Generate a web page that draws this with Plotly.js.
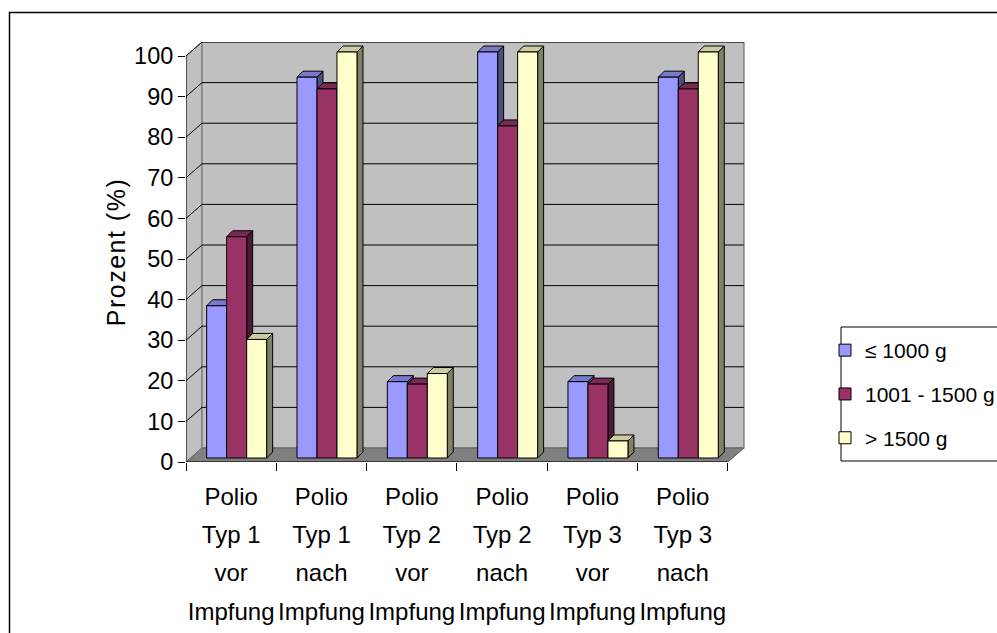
<!DOCTYPE html>
<html>
<head>
<meta charset="utf-8">
<script src="https://cdn.plot.ly/plotly-3.0.1.min.js"></script>
<style>
html,body{margin:0;padding:0;background:#ffffff;}
#chart{width:997px;height:633px;}
</style>
</head>
<body>
<div id="chart"></div>
<script>
// ---- data ----
const categories = [
  'Polio<br>Typ 1<br>vor<br>Impfung',
  'Polio<br>Typ 1<br>nach<br>Impfung',
  'Polio<br>Typ 2<br>vor<br>Impfung',
  'Polio<br>Typ 2<br>nach<br>Impfung',
  'Polio<br>Typ 3<br>vor<br>Impfung',
  'Polio<br>Typ 3<br>nach<br>Impfung'
];
const seriesNames = ['≤ 1000 g', '1001 - 1500 g', '> 1500 g'];
const valuesLe1000 = [37.5, 93.8, 18.8, 100, 18.8, 93.8];
const values1001to1500 = [54.5, 90.9, 18.2, 81.8, 18.2, 90.9];
const valuesGt1500 = [29.2, 100, 20.8, 100, 4.2, 100];
const yTicks = [0, 10, 20, 30, 40, 50, 60, 70, 80, 90, 100];

// ---- style ----
const frontColors = ['#9999FF', '#993366', '#FFFFCC'];
const topColors   = ['#7A7ACC', '#7A2952', '#CCCCA3'];
const sideColors  = ['#4D4D80', '#4D1A33', '#808066'];
const FONT = 'Liberation Sans, Arial, sans-serif';

// geometry (pixels)
const W = 997, H = 633;
const mL = 186, mR = 251, mT = 42, mB = 171;
const plotW = W - mL - mR, plotH = H - mT - mB;
const xRange = [-0.5, 5.7];
const yRange = [0, 103.45];
const pxX = plotW / (xRange[1] - xRange[0]);   // px per category
const pxY = plotH / (yRange[1] - yRange[0]);   // px per %
// wall depth
const dxw = 16 / pxX, dyw = 14 / pxY;
// bars front plane shift
const bsx = 5.5 / pxX, bsy = 4 / pxY;
// bar depth
const dxb = 6 / pxX, dyb = 6 / pxY;
const bargap = 0.336;

const allSeries = [valuesLe1000, values1001to1500, valuesGt1500];

const traces = allSeries.map((vals, j) => ({
  type: 'bar',
  name: seriesNames[j],
  x: categories,
  y: vals,
  xaxis: 'x2',
  yaxis: 'y2',
  legendgroup: 'g' + j,
  marker: {color: frontColors[j], line: {color: '#000000', width: 1}},
  hoverinfo: 'skip'
}));

const shapes = [];
const nCat = categories.length;
const x0 = xRange[0], x1 = x0 + nCat;
// left wall
shapes.push({type: 'path', xref: 'x', yref: 'y', layer: 'below',
  path: `M${x0},0 L${x0},100 L${x0 + dxw},${100 + dyw} L${x0 + dxw},${dyw} Z`,
  fillcolor: '#C0C0C0', line: {color: '#808080', width: 1}});
// back wall
shapes.push({type: 'rect', xref: 'x', yref: 'y', layer: 'below',
  x0: x0 + dxw, x1: x1 + dxw, y0: dyw, y1: 100 + dyw,
  fillcolor: '#C0C0C0', line: {color: '#808080', width: 1.5}});
// floor
shapes.push({type: 'path', xref: 'x', yref: 'y', layer: 'below',
  path: `M${x0},0 L${x1},0 L${x1 + dxw},${dyw} L${x0 + dxw},${dyw} Z`,
  fillcolor: '#808080', line: {color: '#606060', width: 1}});
// gridlines
yTicks.filter(v => v > 0).forEach(v => {
  shapes.push({type: 'line', xref: 'x', yref: 'y', layer: 'below',
    x0: x0, y0: v, x1: x0 + dxw, y1: v + dyw, line: {color: '#000000', width: 1}});
  shapes.push({type: 'line', xref: 'x', yref: 'y', layer: 'below',
    x0: x0 + dxw, y0: v + dyw, x1: x1 + dxw, y1: v + dyw, line: {color: '#000000', width: 1}});
});
// front axis lines
shapes.push({type: 'line', xref: 'x', yref: 'y', layer: 'below',
  x0: x0, y0: 0, x1: x0, y1: 100, line: {color: '#000000', width: 1}});
shapes.push({type: 'line', xref: 'x', yref: 'y', layer: 'below',
  x0: x0, y0: 0, x1: x1, y1: 0, line: {color: '#000000', width: 1}});

// 3D faces of the bars (side + top), from data
const groupW = 1 - bargap;
const barW = groupW / allSeries.length;
for (let i = 0; i < nCat; i++) {
  allSeries.forEach((vals, j) => {
    const v = vals[i];
    const xl = i - groupW / 2 + j * barW;
    const xr = xl + barW;
    shapes.push({type: 'path', xref: 'x2', yref: 'y2', layer: 'below',
      path: `M${xr},0 L${xr},${v} L${xr + dxb},${v + dyb} L${xr + dxb},${dyb} Z`,
      fillcolor: sideColors[j], line: {color: '#000000', width: 1}});
    shapes.push({type: 'path', xref: 'x2', yref: 'y2', layer: 'below',
      path: `M${xl},${v} L${xr},${v} L${xr + dxb},${v + dyb} L${xl + dxb},${v + dyb} Z`,
      fillcolor: topColors[j], line: {color: '#000000', width: 1}});
  });
}

// legend box and outer frame (paper coords relative to plot area)
const px2paperX = p => (p - mL) / plotW;
const px2paperY = p => (H - mB - p) / plotH;
shapes.push({type: 'rect', xref: 'paper', yref: 'paper', layer: 'below',
  x0: px2paperX(841), x1: px2paperX(1010), y0: px2paperY(461), y1: px2paperY(327),
  fillcolor: '#FFFFFF', line: {color: '#000000', width: 1}});
shapes.push({type: 'rect', xref: 'paper', yref: 'paper', layer: 'below',
  x0: px2paperX(9.5), x1: px2paperX(1010), y0: px2paperY(660), y1: px2paperY(12.5),
  fillcolor: 'rgba(0,0,0,0)', line: {color: '#000000', width: 1.5}});

const tickText = categories.map(c =>
  c.split('<br>').map(l => `<span style="font-size:24px">${l}</span>`).join('<br>'));
const boundaries = [];
for (let i = 0; i <= nCat; i++) boundaries.push(i - 0.5);

const layout = {
  width: W, height: H,
  margin: {l: mL, r: mR, t: mT, b: mB, autoexpand: false},
  paper_bgcolor: '#FFFFFF',
  plot_bgcolor: 'rgba(0,0,0,0)',
  font: {family: FONT, color: '#000000'},
  showlegend: true,
  barmode: 'group',
  bargap: bargap,
  bargroupgap: 0,
  xaxis: {
    type: 'linear', range: xRange, fixedrange: true,
    showgrid: false, zeroline: false, showline: false,
    tickmode: 'array', tickvals: categories.map((c, i) => i), ticktext: tickText,
    ticks: '', ticklabelstandoff: 12,
    tickfont: {family: FONT, size: 29.5, color: '#000000'},
    minor: {tickmode: 'array', tickvals: boundaries, ticks: 'outside', ticklen: 8,
            tickcolor: '#000000', tickwidth: 1, showgrid: false}
  },
  yaxis: {
    type: 'linear', range: yRange, fixedrange: true,
    showgrid: false, zeroline: false, showline: false,
    tickmode: 'array', tickvals: yTicks,
    ticks: 'outside', ticklen: 7, tickcolor: '#000000', tickwidth: 1,
    tickfont: {family: FONT, size: 23.5, color: '#000000'},
    title: {text: '<span style="letter-spacing:1.5px">Prozent (%)</span>',
            font: {family: FONT, size: 25, color: '#000000'}, standoff: 1}
  },
  xaxis2: {
    type: 'category', overlaying: 'x', anchor: 'y2', visible: false, fixedrange: true,
    range: [xRange[0] - bsx, xRange[1] - bsx]
  },
  yaxis2: {
    type: 'linear', overlaying: 'y', anchor: 'x2', visible: false, fixedrange: true,
    range: [yRange[0] - bsy, yRange[1] - bsy]
  },
  legend: {
    x: px2paperX(825), xanchor: 'left',
    y: px2paperY(330), yanchor: 'top',
    bgcolor: 'rgba(0,0,0,0)', borderwidth: 0,
    traceorder: 'grouped', tracegroupgap: 13.5,
    font: {family: FONT, size: 21, color: '#000000'}
  },
  shapes: shapes
};

Plotly.newPlot('chart', traces, layout, {displayModeBar: false, staticPlot: true});
</script>
</body>
</html>
